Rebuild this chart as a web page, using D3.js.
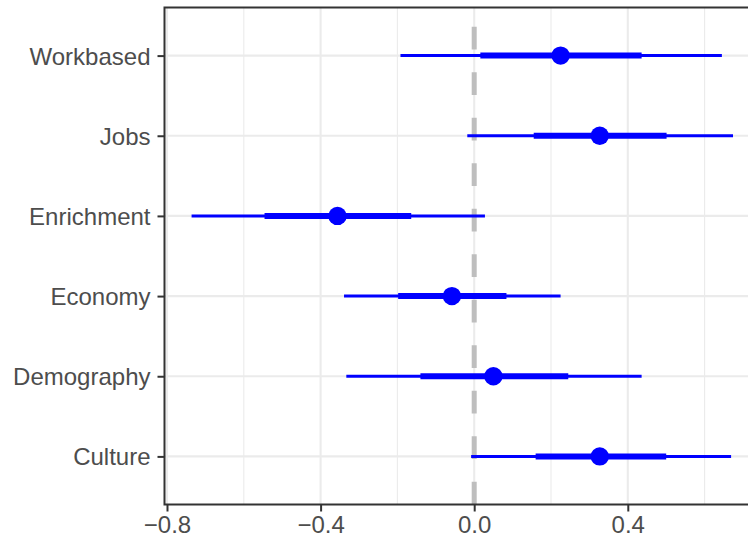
<!DOCTYPE html>
<html>
<head>
<meta charset="utf-8">
<script src="https://cdn.jsdelivr.net/npm/d3@7"></script>
<style>
  html, body { margin: 0; padding: 0; background: #fff; }
  svg { display: block; }
</style>
</head>
<body>
<svg id="chart" width="748" height="542"></svg>
<script>
// Coefficient estimates with inner (thick) and outer (thin) intervals
const categories = ["Workbased", "Jobs", "Enrichment", "Economy", "Demography", "Culture"];
const estimate   = [0.225, 0.327, -0.356, -0.058, 0.050, 0.327];
const innerLow   = [0.016, 0.155, -0.546, -0.198, -0.140, 0.160];
const innerHigh  = [0.436, 0.501, -0.164, 0.084, 0.245, 0.500];
const outerLow   = [-0.192, -0.018, -0.736, -0.339, -0.333, -0.008];
const outerHigh  = [0.645, 0.674, 0.028, 0.225, 0.436, 0.669];
const xTicks     = [-0.8, -0.4, 0.0, 0.4];
const xMinor     = [-0.6, -0.2, 0.2, 0.6];

const rows = categories.map((c, i) => ({
  cat: c, est: estimate[i],
  iLo: innerLow[i], iHi: innerHigh[i],
  oLo: outerLow[i], oHi: outerHigh[i]
}));

const svg = d3.select("#chart");
const panel = { left: 164.5, top: 7.5, bottom: 504.5 };
const pxPerUnit = 384;
const xDomain = [-0.8065, 0.7445];

const x = d3.scaleLinear()
  .domain(xDomain)
  .range([panel.left, panel.left + (xDomain[1] - xDomain[0]) * pxPerUnit]);
const y = d3.scalePoint()
  .domain(categories)
  .range([panel.top, panel.bottom])
  .padding(0.6);

const panelRight = x.range()[1];
const g = svg.append("g");

// Minor vertical gridlines
g.selectAll(".minor").data(xMinor).join("line")
  .attr("x1", d => x(d)).attr("x2", d => x(d))
  .attr("y1", panel.top).attr("y2", panel.bottom)
  .attr("stroke", "#ebebeb").attr("stroke-width", 1.1);

// Major vertical gridlines
g.selectAll(".major").data(xTicks).join("line")
  .attr("x1", d => x(d)).attr("x2", d => x(d))
  .attr("y1", panel.top).attr("y2", panel.bottom)
  .attr("stroke", "#ebebeb").attr("stroke-width", 2.1);

// Horizontal gridlines at categories
g.selectAll(".hgrid").data(categories).join("line")
  .attr("x1", panel.left).attr("x2", panelRight)
  .attr("y1", d => y(d)).attr("y2", d => y(d))
  .attr("stroke", "#ebebeb").attr("stroke-width", 2.1);

// Reference line at zero, drawn upward from the panel bottom
g.append("line")
  .attr("x1", x(0)).attr("x2", x(0))
  .attr("y1", panel.bottom).attr("y2", panel.top)
  .attr("stroke", "#bebebe").attr("stroke-width", 5)
  .attr("stroke-dasharray", "22.75,22.75");

// Outer intervals
g.selectAll(".outer").data(rows).join("line")
  .attr("x1", d => x(d.oLo)).attr("x2", d => x(d.oHi))
  .attr("y1", d => y(d.cat)).attr("y2", d => y(d.cat))
  .attr("stroke", "#0000ff").attr("stroke-width", 3);

// Inner intervals
g.selectAll(".inner").data(rows).join("line")
  .attr("x1", d => x(d.iLo)).attr("x2", d => x(d.iHi))
  .attr("y1", d => y(d.cat)).attr("y2", d => y(d.cat))
  .attr("stroke", "#0000ff").attr("stroke-width", 6);

// Point estimates
g.selectAll(".pt").data(rows).join("circle")
  .attr("cx", d => x(d.est)).attr("cy", d => y(d.cat))
  .attr("r", 9.2).attr("fill", "#0000ff");

// Panel border
g.append("rect")
  .attr("x", panel.left).attr("y", panel.top)
  .attr("width", panelRight - panel.left).attr("height", panel.bottom - panel.top)
  .attr("fill", "none").attr("stroke", "#333333").attr("stroke-width", 2);

// Axes
const fmt = d => d === 0 ? "0.0" : d3.format(".1f")(d).replace("-", "\u2212");
const xAxis = d3.axisBottom(x).tickValues(xTicks).tickFormat(fmt)
  .tickSize(7).tickPadding(4);
const yAxis = d3.axisLeft(y).tickSize(7).tickPadding(7);

const gx = svg.append("g").attr("transform", `translate(0,${panel.bottom})`).call(xAxis);
const gy = svg.append("g").attr("transform", `translate(${panel.left},0)`).call(yAxis);

[gx, gy].forEach(a => {
  a.select(".domain").remove();
  a.selectAll(".tick line").attr("stroke", "#333333").attr("stroke-width", 2);
  a.selectAll(".tick text")
    .attr("fill", "#4d4d4d")
    .style("font-family", "'Liberation Sans', Arial, Helvetica, sans-serif")
    .style("font-size", "24px");
});
gx.selectAll(".tick text").attr("dy", "0.71em");
gy.selectAll(".tick text").attr("dy", "0.35em");
</script>
</body>
</html>
